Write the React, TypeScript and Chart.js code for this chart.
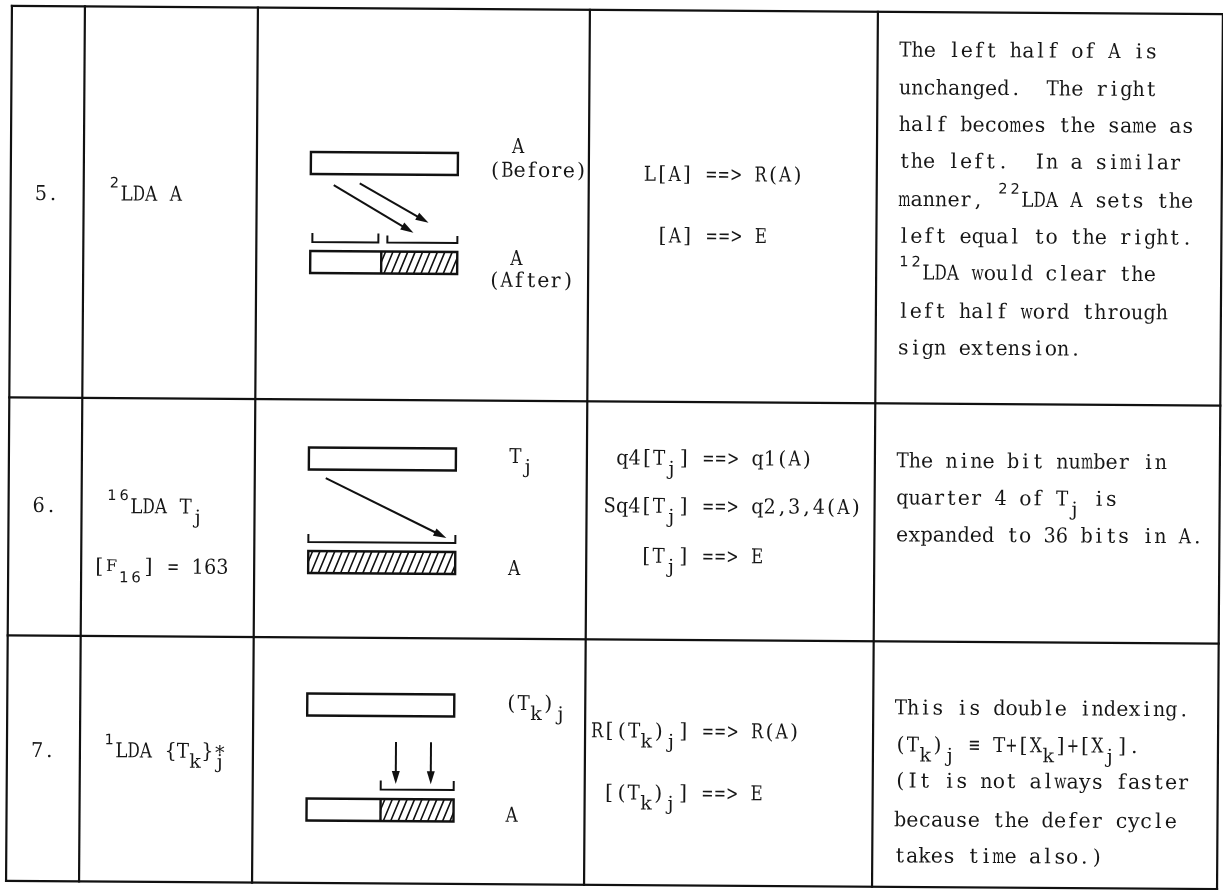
import React, { useEffect, useRef } from "react";
import { Chart, registerables } from "chart.js";

Chart.register(...registerables);

const W = 1223;
const H = 890;

type Tok = [string, string];
type TextLine = Tok[];

// ---------------- content ----------------
const ROW_NUMBERS = ["5.", "6.", "7."];

const INSTRUCTIONS: TextLine[][] = [
  [[["2", "sup"], ["LDA A", "n"]]],
  [
    [["16", "sup"], ["LDA T", "n"], ["j", "sub"]],
    [["[", "n"], ["F", "small"], ["16", "ssub"], ["] = 163", "n"]],
  ],
  [[["1", "sup"], ["LDA {T", "n"], ["k", "sub"], ["}", "n"], ["*", "over"], ["j", "sub"]]],
];

const REGISTER_LABELS: TextLine[][] = [
  [[["A", "n"]], [["(Before)", "n"]], [["A", "n"]], [["(After)", "n"]]],
  [[["T", "n"], ["j", "sub"]], [["A", "n"]]],
  [[["(T", "n"], ["k", "sub"], [")", "n"], ["j", "sub"]], [["A", "n"]]],
];

const EFFECTS: TextLine[][] = [
  [[["L[A] ==> R(A)", "n"]], [["[A] ==> E", "n"]]],
  [
    [["q4[T", "n"], ["j", "sub"], ["] ==> q1(A)", "n"]],
    [["Sq4[T", "n"], ["j", "sub"], ["] ==> q2,3,4(A)", "n"]],
    [["[T", "n"], ["j", "sub"], ["] ==> E", "n"]],
  ],
  [
    [["R[(T", "n"], ["k", "sub"], [")", "n"], ["j", "sub"], ["] ==> R(A)", "n"]],
    [["[(T", "n"], ["k", "sub"], [")", "n"], ["j", "sub"], ["] ==> E", "n"]],
  ],
];

const NOTES: TextLine[][] = [
  [
    [["The left half of A is", "n"]],
    [["unchanged.  The right", "n"]],
    [["half becomes the same as", "n"]],
    [["the left.  In a similar", "n"]],
    [["manner, ", "n"], ["22", "sup"], ["LDA A sets the", "n"]],
    [["left equal to the right.", "n"]],
    [["12", "sup"], ["LDA would clear the", "n"]],
    [["left half word through", "n"]],
    [["sign extension.", "n"]],
  ],
  [
    [["The nine bit number in", "n"]],
    [["quarter 4 of T", "n"], ["j", "sub"], [" is", "n"]],
    [["expanded to 36 bits in A.", "n"]],
  ],
  [
    [["This is double indexing.", "n"]],
    [["(T", "n"], ["k", "sub"], [")", "n"], ["j", "sub"], [" \u2261 T+[X", "n"], ["k", "sub"], ["]+[X", "n"], ["j", "sub"], ["].", "n"]],
    [["(It is not always faster", "n"]],
    [["because the defer cycle", "n"]],
    [["takes time also.)", "n"]],
  ],
];

// ---------------- layout (page units, before the scan's tilt) ----------------
const COL_EDGES = [9, 82, 255, 587, 875, 1220];
const ROW_EDGES = [10, 401.5, 639.5, 885];

const NUMBER_U = 33;
const NUMBER_V = [203.8, 515.8, 760.8];

const INSTR_U = [[106.5], [106, 94], [105]];
const INSTR_V = [[203.8], [516.4, 576.5], [760.6]];

const LABEL_U = [[510, 487, 509, 487], [509.4, 508.8], [507, 508]];
const LABEL_V = [[153.6, 177.5, 265.6, 287.6], [463.6, 575.6], [710.5, 822.5]];

const EFFECT_U = [[642, 655], [616.3, 604, 641], [593, 605.3]];
const EFFECT_V = [[180.5, 242], [464.4, 512.4, 562.4], [737.4, 799.4]];

const NOTE_U = 896.5;
const NOTE_V = [
  [54.7, 92.4, 129, 165.7, 204, 240.7, 277.4, 315.7, 352.4],
  [465.4, 502.4, 539.4],
  [712.4, 749.4, 785.4, 824.4, 860.4],
];

const REG_U = [309, 456];
const REG_TOP_V = [154, 449.5, 695.5];
const REG_BOTTOM_V = [253, 553, 800.5];
const REG_H = 22;
const HATCH_FROM_U = [380, 309, 383];

// [u1, u2, vTop(tick ends), vBottom(horizontal)]
const BRACKETS = [
  [311, 377, 235, 244],
  [386, 456, 237, 244],
  [309, 456, 536, 544],
  [383, 456, 782, 791],
];

// [u1, v1, u2(tip), v2(tip)]
const ARROWS = [
  [332, 187, 412, 234],
  [358, 185, 427, 224],
  [326, 480, 447, 539],
  [398, 743.5, 398, 785.5],
  [433, 743.5, 433, 785.5],
];

// ---------------- styles ----------------
const TILT = 0.0067;
const INK = "#111111";
const TEXT_INK = "#161616";
const SERIF = '"DejaVu Serif", "Liberation Serif", serif';
const SANS = '"DejaVu Sans", "Liberation Sans", sans-serif';
const CELL = 12.3;
const MAX_GLYPH_W = 12.2;
const STYLE: Record<string, { size: number; dy: number; adv: boolean; family: string }> = {
  n: { size: 20.5, dy: 0, adv: true, family: SERIF },
  sup: { size: 14.5, dy: -13, adv: true, family: SANS },
  sub: { size: 19, dy: 10, adv: true, family: SERIF },
  ssub: { size: 15, dy: 9, adv: true, family: SANS },
  small: { size: 16, dy: -2, adv: true, family: SERIF },
  over: { size: 19, dy: 1, adv: false, family: SERIF },
};

const scanPlugin = {
  id: "scanTable",
  beforeDatasetsDraw(chart: any) {
    const ctx = chart.ctx as CanvasRenderingContext2D;
    ctx.save();
    const cx = chart.width / 2;
    const cy = chart.height / 2;
    ctx.translate(cx, cy);
    ctx.rotate(TILT);
    ctx.translate(-cx, -cy);
  },
  afterDatasetsDraw(chart: any) {
    const ctx = chart.ctx as CanvasRenderingContext2D;
    const xs = chart.scales.x;
    const ys = chart.scales.y;
    const X = (u: number) => xs.getPixelForValue(u);
    const Y = (v: number) => ys.getPixelForValue(v);

    const drawText = (line: TextLine, u0: number, vBase: number) => {
      let cell = 0;
      ctx.textAlign = "center";
      ctx.textBaseline = "alphabetic";
      ctx.fillStyle = TEXT_INK;
      for (const [str, kind] of line) {
        const st = STYLE[kind] || STYLE.n;
        ctx.font = `${st.size}px ${st.family}`;
        for (const ch of str) {
          if (ch !== " ") {
            const px = X(u0 + (cell + 0.5) * CELL);
            const py = Y(vBase + st.dy);
            const w = ctx.measureText(ch).width;
            const sx = w > MAX_GLYPH_W ? MAX_GLYPH_W / w : 1;
            ctx.save();
            ctx.translate(px, py);
            ctx.scale(sx, 1);
            ctx.fillText(ch, 0, 0);
            ctx.restore();
          }
          if (st.adv) cell++;
        }
      }
    };

    // registers
    ctx.strokeStyle = INK;
    ctx.lineJoin = "miter";
    for (let r = 0; r < 3; r++) {
      const hu1 = HATCH_FROM_U[r];
      const hu2 = REG_U[1];
      const hv1 = REG_BOTTOM_V[r];
      const hv2 = hv1 + REG_H;
      ctx.save();
      ctx.beginPath();
      ctx.rect(X(hu1), Y(hv1), X(hu2) - X(hu1), Y(hv2) - Y(hv1));
      ctx.clip();
      ctx.lineWidth = 1.6;
      ctx.beginPath();
      for (let u = hu1 - 12; u < hu2 + 2; u += 7.4) {
        ctx.moveTo(X(u), Y(hv2));
        ctx.lineTo(X(u + 9), Y(hv1));
      }
      ctx.stroke();
      ctx.restore();

      ctx.lineWidth = 2.4;
      for (const v of [REG_TOP_V[r], REG_BOTTOM_V[r]]) {
        ctx.strokeRect(X(REG_U[0]), Y(v), X(REG_U[1]) - X(REG_U[0]), Y(v + REG_H) - Y(v));
      }
      if (hu1 > REG_U[0] + 1) {
        ctx.beginPath();
        ctx.moveTo(X(hu1), Y(hv1));
        ctx.lineTo(X(hu1), Y(hv2));
        ctx.stroke();
      }
    }

    // brackets
    ctx.lineWidth = 2;
    for (const [u1, u2, vt, vb] of BRACKETS) {
      ctx.beginPath();
      ctx.moveTo(X(u1), Y(vt));
      ctx.lineTo(X(u1), Y(vb));
      ctx.lineTo(X(u2), Y(vb));
      ctx.lineTo(X(u2), Y(vt));
      ctx.stroke();
    }

    // arrows
    for (const [u1, v1, u2, v2] of ARROWS) {
      const x1 = X(u1), y1 = Y(v1), x2 = X(u2), y2 = Y(v2);
      const len = Math.hypot(x2 - x1, y2 - y1);
      const dx = (x2 - x1) / len, dy = (y2 - y1) / len;
      const L = 13, Wd = 4;
      ctx.lineWidth = 2;
      ctx.beginPath();
      ctx.moveTo(x1, y1);
      ctx.lineTo(x2 - dx * (L - 2), y2 - dy * (L - 2));
      ctx.stroke();
      ctx.fillStyle = INK;
      ctx.beginPath();
      ctx.moveTo(x2, y2);
      ctx.lineTo(x2 - dx * L - dy * Wd, y2 - dy * L + dx * Wd);
      ctx.lineTo(x2 - dx * L + dy * Wd, y2 - dy * L - dx * Wd);
      ctx.closePath();
      ctx.fill();
    }

    // texts
    for (let r = 0; r < 3; r++) {
      drawText([[ROW_NUMBERS[r], "n"]], NUMBER_U, NUMBER_V[r]);
      INSTRUCTIONS[r].forEach((ln, i) => drawText(ln, INSTR_U[r][i], INSTR_V[r][i]));
      REGISTER_LABELS[r].forEach((ln, i) => drawText(ln, LABEL_U[r][i], LABEL_V[r][i]));
      EFFECTS[r].forEach((ln, i) => drawText(ln, EFFECT_U[r][i], EFFECT_V[r][i]));
      NOTES[r].forEach((ln, i) => drawText(ln, NOTE_U, NOTE_V[r][i]));
    }

    ctx.restore();
  },
};

export default function App() {
  const ref = useRef<HTMLCanvasElement>(null);

  useEffect(() => {
    const canvas = ref.current;
    if (!canvas) return;
    const first = COL_EDGES[0];
    const last = COL_EDGES[COL_EDGES.length - 1];
    const top = ROW_EDGES[0];
    const bottom = ROW_EDGES[ROW_EDGES.length - 1];
    const ruleStyle = {
      showLine: true,
      borderColor: INK,
      borderWidth: 2.2,
      borderCapStyle: "square" as const,
      pointRadius: 0,
      pointHoverRadius: 0,
      clip: false as any,
      fill: false,
      tension: 0,
    };
    const hRules = ROW_EDGES.map((v) => ({
      ...ruleStyle,
      data: [
        { x: first, y: v },
        { x: last, y: v },
      ],
    }));
    const vRules = COL_EDGES.map((u) => ({
      ...ruleStyle,
      data: [
        { x: u, y: top },
        { x: u, y: bottom },
      ],
    }));

    const chart = new Chart(canvas, {
      type: "scatter",
      data: { datasets: [...hRules, ...vRules] as any },
      options: {
        animation: false,
        responsive: false,
        maintainAspectRatio: false,
        events: [],
        layout: { padding: 0 },
        plugins: {
          legend: { display: false },
          tooltip: { enabled: false },
          title: { display: false },
        },
        scales: {
          x: { type: "linear", min: 0, max: W, display: false },
          y: { type: "linear", min: 0, max: H, reverse: true, display: false },
        },
      },
      plugins: [scanPlugin as any],
    });
    return () => chart.destroy();
  }, []);

  return (
    <div style={{ position: "absolute", left: 0, top: 0, width: W, height: H, background: "#fff" }}>
      <canvas ref={ref} width={W} height={H} style={{ display: "block", width: W, height: H }} />
    </div>
  );
}
